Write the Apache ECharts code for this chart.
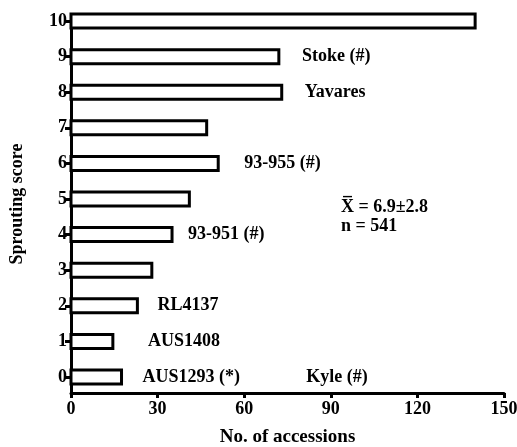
<!DOCTYPE html>
<html><head><meta charset="utf-8">
<script src="https://cdn.jsdelivr.net/npm/echarts@6/dist/echarts.min.js"></script>
<style>html,body{margin:0;padding:0;background:#fff}#c{width:517px;height:447px}</style>
</head><body><div id="c"></div>
<script>
const scores = [0,1,2,3,4,5,6,7,8,9,10];
const accessions = [17.5,14.5,23,28,35,41,51,47,73,72,140];
const xTicks = [0,30,60,90,120,150];
const yTicks = [0,1,2,3,4,5,6,7,8,9,10];
// annotation texts with the (count, score) they sit at
const noteText = ['Stoke (#)','Yavares','93-955 (#)','93-951 (#)','RL4137','AUS1408','AUS1293 (*)','Kyle (#)'];
const noteX = [80,81,60,40.5,30,26.7,24.8,81.5];
const noteY = [9,8,6,4,2,1,0,0];
const statLines = ['X\u0305 = 6.9\u00b12.8','n = 541'];
const statX = [93.5,93.5];
const statY = [4.78,4.22];

const FONT = 'bold 18px "Liberation Serif", "DejaVu Serif", serif';
const chart = echarts.init(document.getElementById('c'));
chart.setOption({
  animation:false,
  grid:{left:71,right:13,top:15,bottom:54,containLabel:false,outerBoundsMode:'none'},
  xAxis:{type:'value',min:0,max:150,interval:30,
    name:'No. of accessions',nameLocation:'middle',nameGap:35,
    nameTextStyle:{fontFamily:'Liberation Serif',fontWeight:'bold',fontSize:19,color:'#000'},
    axisLine:{show:true,onZero:false,lineStyle:{color:'#000',width:3}},
    axisTick:{show:true,length:5,lineStyle:{color:'#000',width:3}},
    axisLabel:{fontFamily:'Liberation Serif',fontWeight:'bold',fontSize:18,color:'#000',margin:7},
    splitLine:{show:false}},
  yAxis:{type:'value',min:-0.45,max:10.17,
    name:'Sprouting score',nameLocation:'middle',nameGap:45,
    nameTextStyle:{fontFamily:'Liberation Serif',fontWeight:'bold',fontSize:18,color:'#000'},
    axisLine:{show:true,onZero:false,lineStyle:{color:'#000',width:3}},
    axisTick:{show:true,length:6,customValues:yTicks,lineStyle:{color:'#000',width:3}},
    axisLabel:{customValues:yTicks,fontFamily:'Liberation Serif',fontWeight:'bold',fontSize:18,color:'#000',margin:4},
    splitLine:{show:false}},
  series:[
    {type:'custom',
     data:accessions.map((v,i)=>[v,scores[i]]),
     encode:{x:0,y:1},
     renderItem:(params,api)=>{
       const y=api.value(1), v=api.value(0);
       const p0=api.coord([0,y]), p1=api.coord([v,y]);
       return {type:'rect',shape:{x:p0[0],y:p0[1]-7,width:p1[0]-p0[0],height:14},
         style:{fill:'#fff',stroke:'#000',lineWidth:3}};
     }},
    {type:'custom',
     data:noteText.map((t,i)=>[noteX[i],noteY[i],i]),
     encode:{x:0,y:1},
     renderItem:(params,api)=>{
       const p=api.coord([api.value(0),api.value(1)]);
       return {type:'text',x:p[0],y:p[1],
         style:{text:noteText[api.value(2)],font:FONT,fill:'#000',align:'left',verticalAlign:'middle'}};
     }},
    {type:'custom',
     data:statLines.map((t,i)=>[statX[i],statY[i],i]),
     encode:{x:0,y:1},
     renderItem:(params,api)=>{
       const p=api.coord([api.value(0),api.value(1)]);
       return {type:'text',x:p[0],y:p[1],
         style:{text:statLines[api.value(2)],font:FONT,fill:'#000',align:'left',verticalAlign:'middle'}};
     }}
  ]
});
</script></body></html>
